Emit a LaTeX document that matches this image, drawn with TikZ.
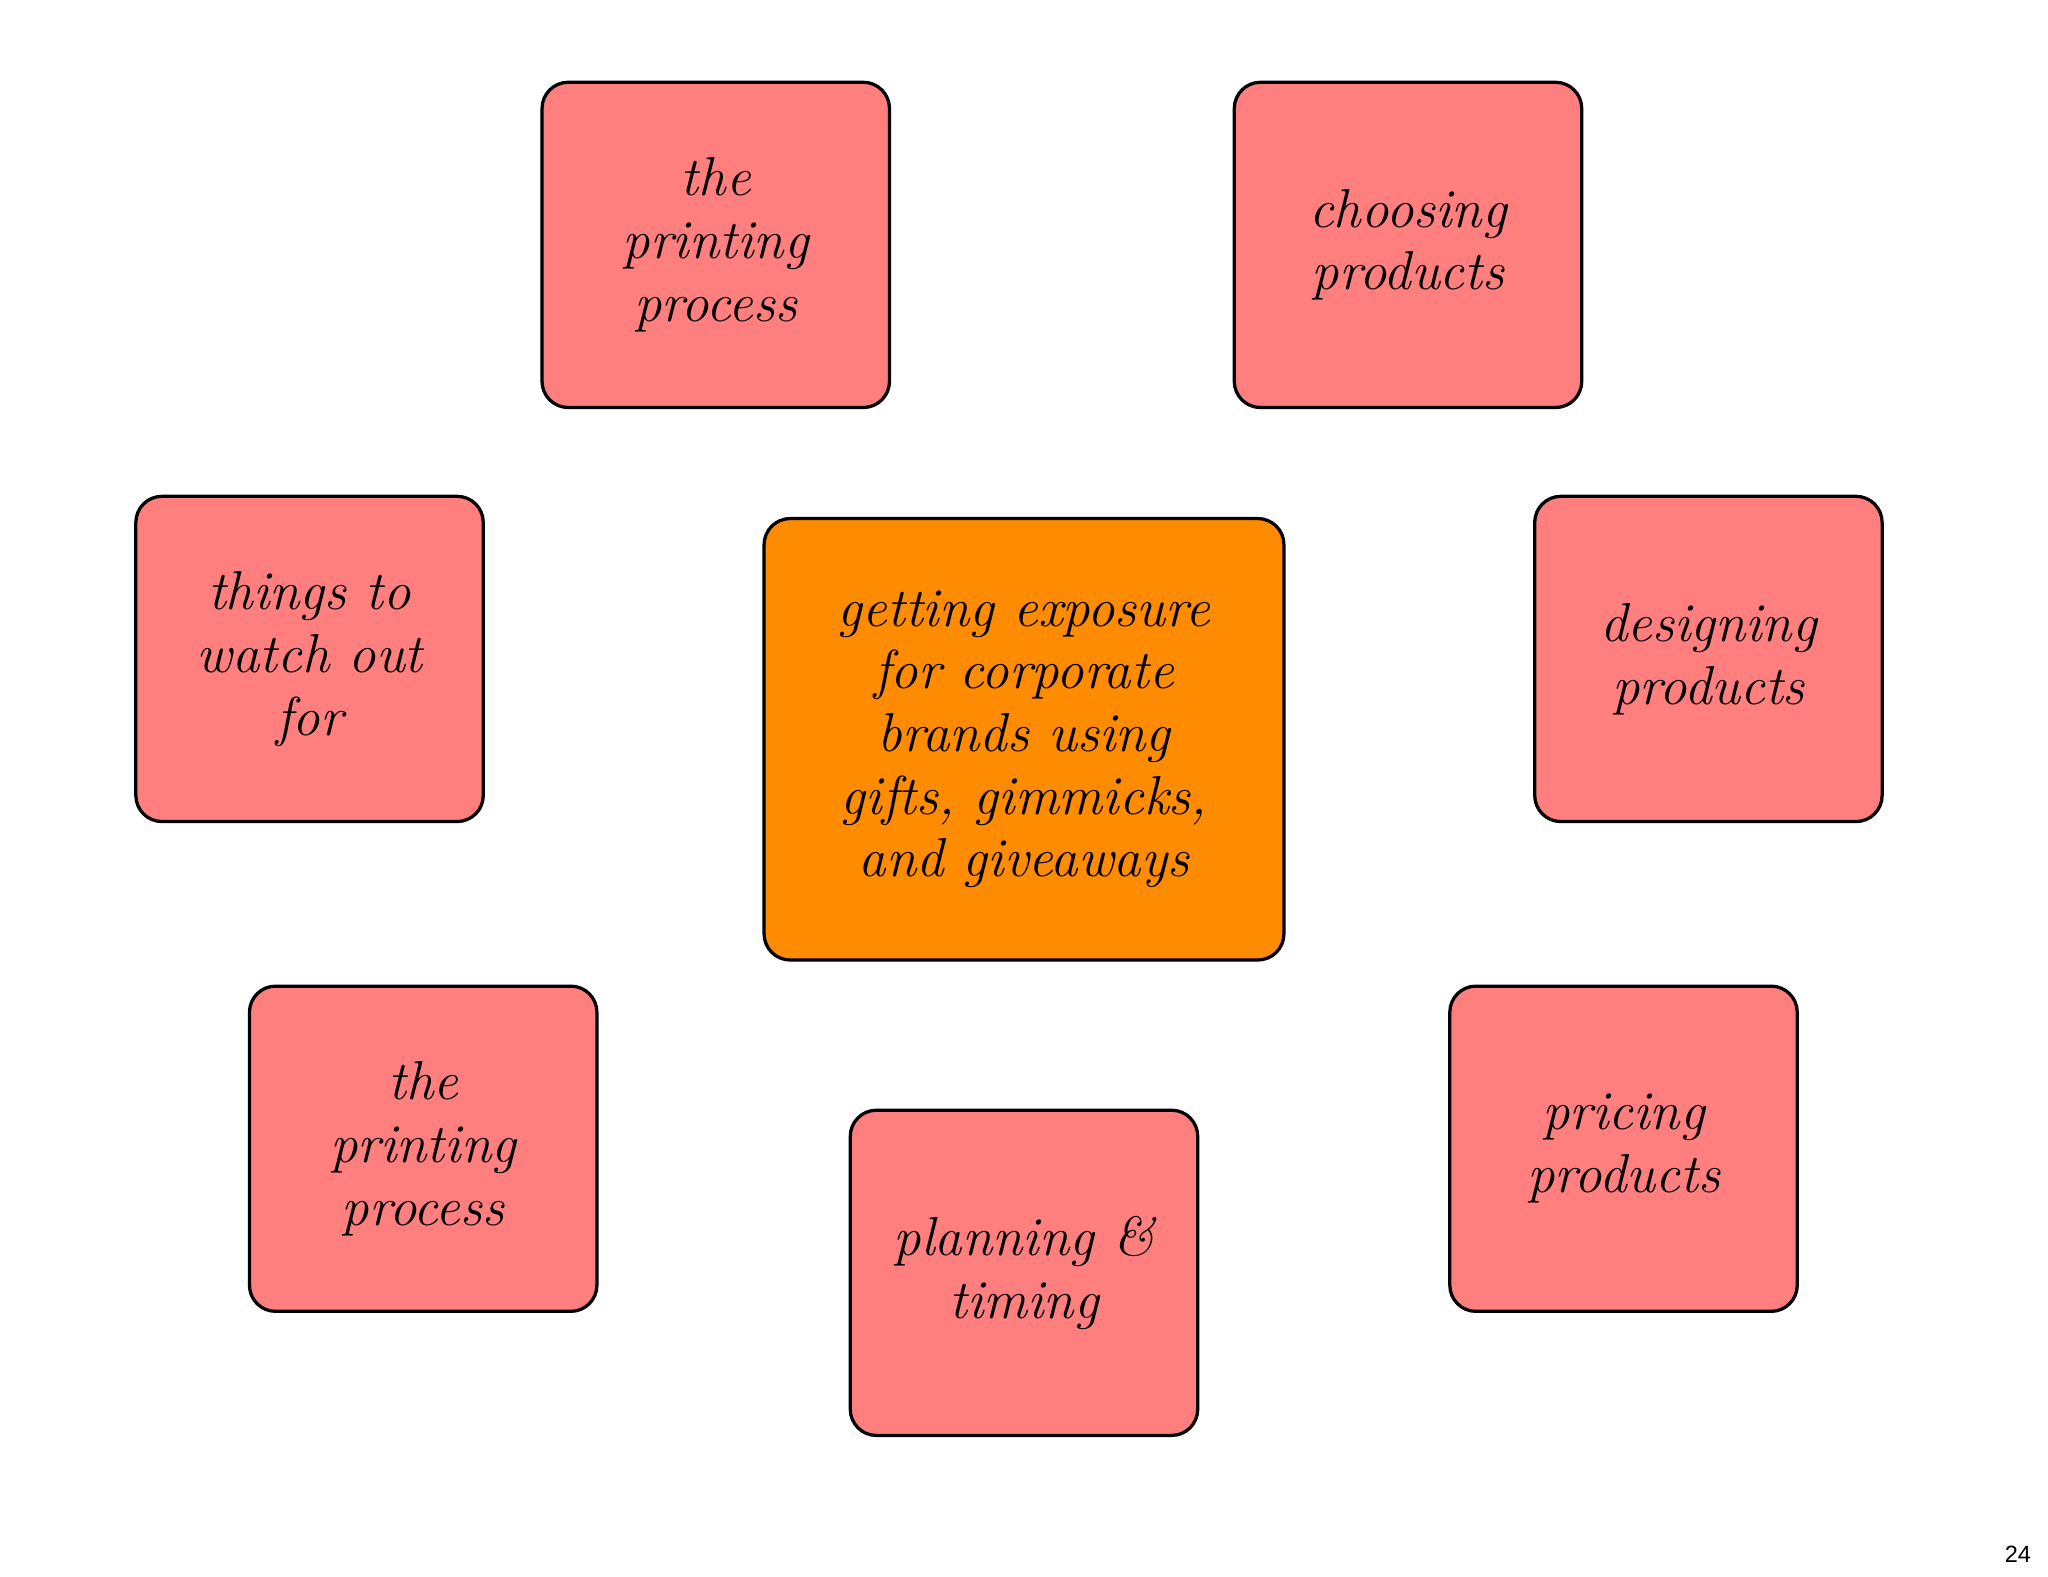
\documentclass[tikz,border=0pt]{standalone}
\usepackage{fontspec}
\setsansfont{Liberation Sans}
\begin{document}
\begin{tikzpicture}[x=1pt,y=-1pt]
\definecolor{salmon}{HTML}{FF7F7F}
\definecolor{orng}{HTML}{FF8C00}
\tikzset{card/.style={draw=black,line width=2.5pt,rounded corners=20pt,fill=salmon,
  minimum width=266pt,minimum height=249pt,inner sep=0pt,align=center,
  font=\fontsize{42}{48}\selectfont\itshape}}
\fill[white] (0,0) rectangle (1568,1207);
\useasboundingbox (0,0) rectangle (1568,1207);
\node[card] (tl) at (548,187.5) {the\\printing\\process};
\node[card] (tr) at (1078,187.5) {choosing\\products};
\node[card] (l) at (237,504.5) {things to\\watch out\\for};
\node[card,fill=orng,minimum width=398pt,minimum height=338pt] (c) at (784,566) {getting exposure\\for corporate\\brands using\\gifts, gimmicks,\\and giveaways};
\node[card] (r) at (1308,504.5) {designing\\products};
\node[card] (bl) at (324,879.5) {the\\printing\\process};
\node[card] (bm) at (784,974.5) {planning \&\\timing};
\node[card] (br) at (1243,879.5) {pricing\\products};
\node[font=\sffamily\fontsize{18}{20}\selectfont] (pg) at (1545,1190) {24};
\end{tikzpicture}
\end{document}
